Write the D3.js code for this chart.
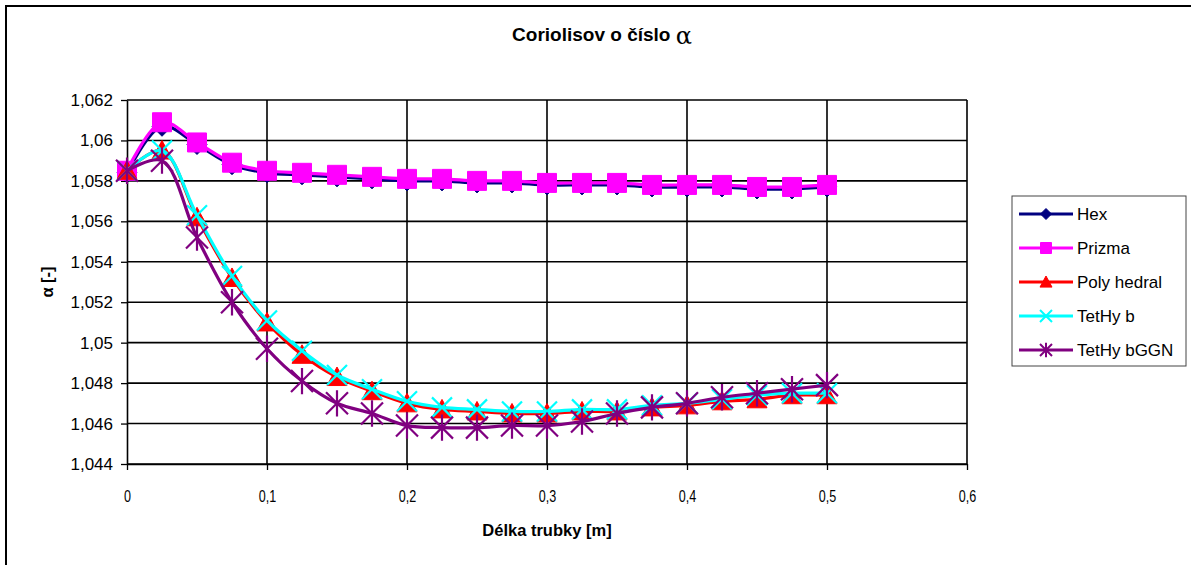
<!DOCTYPE html>
<html><head><meta charset="utf-8">
<script src="https://cdn.jsdelivr.net/npm/d3@7"></script>
<style>body{margin:0;background:#fff}svg{display:block}text{font-family:"Liberation Sans",Arial,sans-serif}</style>
</head><body><svg id="c" width="1191" height="565"></svg>
<script>
const xValues = [0,0.025,0.05,0.075,0.1,0.125,0.15,0.175,0.2,0.225,0.25,0.275,0.3,0.325,0.35,0.375,0.4,0.425,0.45,0.475,0.5];
const hex = [1.0584,1.0607,1.0598,1.0588,1.0584,1.0583,1.0582,1.0581,1.0580,1.0580,1.0579,1.0579,1.0578,1.0578,1.0578,1.0577,1.0577,1.0577,1.0576,1.0576,1.0577];
const prizma = [1.0585,1.0609,1.0599,1.0589,1.0585,1.0584,1.0583,1.0582,1.0581,1.0581,1.0580,1.0580,1.0579,1.0579,1.0579,1.0578,1.0578,1.0578,1.0577,1.0577,1.0578];
const polyhedral = [1.0585,1.0595,1.0562,1.0532,1.0510,1.0494,1.0483,1.0476,1.0470,1.0467,1.0466,1.0465,1.0465,1.0466,1.0466,1.0468,1.0469,1.0471,1.0472,1.0474,1.0474];
const tethyb = [1.0585,1.0595,1.0563,1.0533,1.0511,1.0496,1.0484,1.0477,1.0471,1.0468,1.0467,1.0466,1.0466,1.0467,1.0467,1.0469,1.0470,1.0472,1.0474,1.0475,1.0475];
const tethybGGN = [1.0585,1.0590,1.0552,1.0520,1.0497,1.0481,1.0470,1.0465,1.0459,1.0458,1.0458,1.0459,1.0459,1.0461,1.0465,1.0468,1.0470,1.0473,1.0475,1.0477,1.0479];
const xTicks = [0,0.1,0.2,0.3,0.4,0.5,0.6];
const yTicks = [1.044,1.046,1.048,1.05,1.052,1.054,1.056,1.058,1.06,1.062];
const seriesNames = ["Hex","Prizma","Poly hedral","TetHy b","TetHy bGGN"];
const seriesColors = ["#000080","#FF00FF","#FF0000","#00FFFF","#800080"];
const seriesShapes = ["diamond","square","triangle","x","star"];
const seriesData = [hex, prizma, polyhedral, tethyb, tethybGGN];

const svg = d3.select("#c");
const x = d3.scaleLinear().domain([0,0.6]).range([127,967]);
const y = d3.scaleLinear().domain([1.044,1.062]).range([464,100]);
const fmt = v => String(+v.toFixed(3)).replace(".", ",");

svg.append("rect").attr("x",6).attr("y",6).attr("width",1300).attr("height",700)
  .attr("fill","none").attr("stroke","#000").attr("stroke-width",2);

// gridlines
svg.append("g").selectAll("line").data(yTicks).join("line")
  .attr("x1",127).attr("x2",967).attr("y1",d=>y(d)).attr("y2",d=>y(d))
  .attr("stroke","#000").attr("stroke-width",1.6);
svg.append("g").selectAll("line").data(xTicks.slice(1)).join("line")
  .attr("y1",100).attr("y2",464).attr("x1",d=>x(d)).attr("x2",d=>x(d))
  .attr("stroke","#000").attr("stroke-width",1.6);

const xAxis = svg.append("g").attr("transform","translate(0,464)")
  .call(d3.axisBottom(x).tickValues(xTicks).tickFormat(fmt).tickSize(6).tickSizeOuter(0).tickPadding(20));
const yAxis = svg.append("g").attr("transform","translate(127,0)")
  .call(d3.axisLeft(y).tickValues(yTicks).tickFormat(fmt).tickSize(6).tickSizeOuter(0).tickPadding(8));
[xAxis,yAxis].forEach(a=>{
  a.select(".domain").attr("stroke","#000").attr("stroke-width",1.6);
  a.selectAll(".tick line").attr("stroke","#000").attr("stroke-width",1.3);
  a.selectAll("text").attr("font-size",17).attr("fill","#000").attr("font-family","Liberation Sans, Arial, sans-serif");
});
xAxis.selectAll("text").attr("transform","scale(0.74,1)");

function shapePath(shape, s){
  const h = s/2;
  switch(shape){
    case "diamond": return `M0,${-h}L${h},0L0,${h}L${-h},0Z`;
    case "square": return `M${-h},${-h}H${h}V${h}H${-h}Z`;
    case "triangle": return `M0,${-h}L${h},${h*0.85}L${-h},${h*0.85}Z`;
    case "x": return `M${-h},${-h}L${h},${h}M${h},${-h}L${-h},${h}`;
    case "star": return `M${-h},${-h}L${h},${h}M${h},${-h}L${-h},${h}M0,${-h*1.2}V${h*1.2}`;
  }
}
const filled = s => s==="diamond"||s==="square"||s==="triangle";

const line = d3.line().x((d,i)=>x(xValues[i])).y(d=>y(d)).curve(d3.curveCatmullRom.alpha(0.5));
seriesData.forEach((data,k)=>{
  const g = svg.append("g");
  g.append("path").attr("d",line(data)).attr("fill","none")
    .attr("stroke",seriesColors[k]).attr("stroke-width",3.2);
  const sz = [20,19,20,20,22][k];
  g.selectAll("path.m").data(data).join("path").attr("class","m")
    .attr("transform",(d,i)=>`translate(${x(xValues[i])},${y(d)})`)
    .attr("d",shapePath(seriesShapes[k], sz))
    .attr("fill",filled(seriesShapes[k])?seriesColors[k]:"none")
    .attr("stroke",seriesColors[k]).attr("stroke-width",filled(seriesShapes[k])?1:2.2);
});

// title
const t = svg.append("text").attr("x",602).attr("y",41).attr("text-anchor","middle")
  .attr("font-size",19).attr("font-weight","bold");
t.append("tspan").text("Coriolisov o číslo ");
t.append("tspan").attr("font-weight","normal").attr("font-size",24).attr("dy",3).attr("font-family","DejaVu Serif, serif").text("α");

svg.append("text").attr("x",547).attr("y",536).attr("text-anchor","middle")
  .attr("font-size",16.5).attr("font-weight","bold").text("Délka trubky [m]");
svg.append("text").attr("transform","translate(53,282) rotate(-90)").attr("text-anchor","middle")
  .attr("font-size",16.5).attr("font-weight","bold").text("α [-]");

// legend
const lg = svg.append("g");
lg.append("rect").attr("x",1012).attr("y",196).attr("width",174).attr("height",170)
  .attr("fill","#fff").attr("stroke","#444").attr("stroke-width",1);
const lsz = [11,11,12,12,12];
seriesNames.forEach((name,k)=>{
  const yy = 214 + k*34;
  lg.append("line").attr("x1",1019).attr("x2",1073).attr("y1",yy).attr("y2",yy)
    .attr("stroke",seriesColors[k]).attr("stroke-width",3);
  lg.append("path").attr("transform",`translate(1046,${yy})`).attr("d",shapePath(seriesShapes[k],lsz[k]))
    .attr("fill",filled(seriesShapes[k])?seriesColors[k]:"none").attr("stroke",seriesColors[k])
    .attr("stroke-width",filled(seriesShapes[k])?1:2);
  lg.append("text").attr("x",1077).attr("y",yy+6).attr("font-size",17).text(name);
});
</script></body></html>
